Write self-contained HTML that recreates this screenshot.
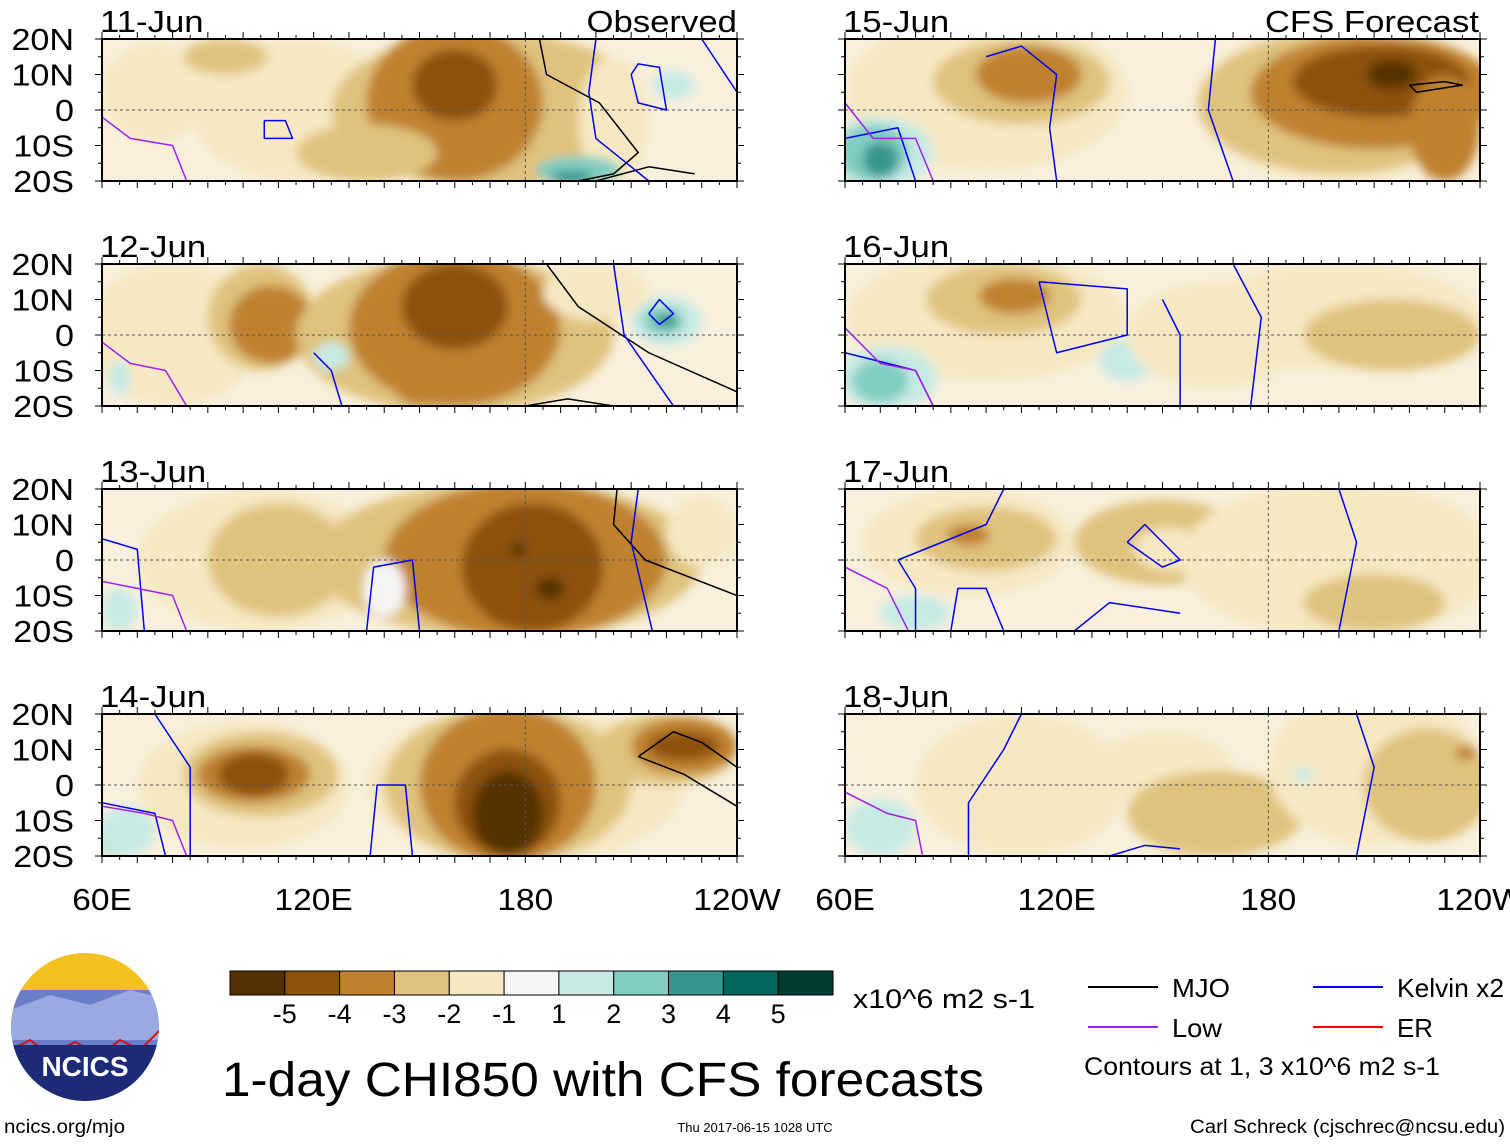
<!DOCTYPE html>
<html><head><meta charset="utf-8">
<style>
body{margin:0;background:#fff;width:1510px;height:1142px;overflow:hidden;font-family:"Liberation Sans",sans-serif}
svg text{font-family:"Liberation Sans",sans-serif}
</style></head>
<body>
<svg id="chart" width="1510" height="1142" viewBox="0 0 1510 1142" xmlns="http://www.w3.org/2000/svg">
<defs>
<filter id="blur" x="-20%" y="-20%" width="140%" height="140%"><feGaussianBlur stdDeviation="5"/></filter>
</defs>
<g id="panels"></g>
<g id="legend"></g>
</svg>
<script>
// ---- data ----
const levelColors = ["#543005","#8c510a","#bf812d","#dfc27d","#f6e8c3","#f5f5f5","#c7eae5","#80cdc1","#35978f","#01665e","#003c30"];
const levelLabels = ["-5","-4","-3","-2","-1","1","2","3","4","5"];
const panelTitles = ["11-Jun","12-Jun","13-Jun","14-Jun","15-Jun","16-Jun","17-Jun","18-Jun"];
const lonTicks = [60,120,180,240];
const lonTickLabels = ["60E","120E","180","120W"];
const latTicks = [20,10,0,-10,-20];
const latTickLabels = ["20N","10N","0","10S","20S"];
// blobs: [lon, lat, halfWidthDeg, halfHeightDeg, levelIndex]
const blobs11 = [[75,5,15,14,4],[115,0,30,20,4],[170,0,45,22,3],[95,15,12,5,3],[160,2,25,22,2],[160,7,12,10,1],[135,-12,20,8,3],[205,-3,10,18,4],[222,7,6,4,6],[195,-17,12,4,7],[193,-19,6,2,8]];
const blobs12 = [[80,0,25,20,4],[105,5,15,15,3],[108,3,12,11,2],[160,0,45,22,3],[160,2,30,22,2],[160,8,15,12,1],[150,-12,8,8,2],[125,-6,5,4,6],[220,4,10,7,6],[219,4,6,4,7],[220,4,3,2,8],[200,12,15,8,4],[65,-12,3,5,6]];
const blobs13 = [[105,0,35,20,4],[110,0,20,16,3],[175,0,55,22,3],[180,0,40,22,2],[182,-2,20,18,1],[178,3,2,2,0],[187,-8,4,3,0],[230,8,10,10,4],[65,-14,5,6,6],[140,-8,6,8,5]];
const blobs14 = [[100,0,30,18,4],[105,3,22,12,3],[103,3,16,8,2],[103,3,10,6,1],[180,0,45,22,4],[175,0,35,22,3],[175,0,25,22,2],[175,-5,15,15,1],[175,-8,10,12,0],[220,10,20,10,3],[225,11,15,8,2],[225,11,10,4,1],[65,-15,6,5,7],[67,-13,8,7,6]];
const blobs15 = [[100,5,40,22,4],[110,8,25,12,3],[112,10,15,8,2],[200,2,40,22,4],[200,2,40,20,3],[210,5,35,16,2],[212,8,25,10,1],[215,10,7,4,0],[230,-5,10,15,2],[70,-12,15,10,6],[68,-12,10,8,7],[70,-14,5,5,8]];
const blobs16 = [[100,5,40,18,4],[105,10,22,10,3],[108,11,10,5,2],[200,5,40,15,4],[215,0,25,10,3],[72,-12,14,9,6],[70,-13,8,6,7],[140,-7,8,6,6],[165,0,25,15,4]];
const blobs17 = [[95,5,30,15,4],[100,6,20,9,3],[95,7,6,3,2],[150,5,25,12,3],[152,3,10,6,4],[200,0,45,22,4],[210,-12,20,8,3],[80,-15,10,5,6]];
const blobs18 = [[110,0,30,20,4],[150,5,20,10,4],[165,-8,25,12,3],[210,5,30,22,4],[225,0,18,16,3],[236,9,3,2,2],[70,-12,10,8,6],[190,3,3,2,6]];
const panelBlobs = [blobs11,blobs12,blobs13,blobs14,blobs15,blobs16,blobs17,blobs18];
// contour lines: [type, [[lon,lat],...]]
const lines11 = [["mjo",[[184,20],[186,10],[201,2],[212,-12],[205,-18],[195,-20]]],["mjo",[[200,-20],[215,-16],[228,-18]]],["kelvin",[[200,20],[198,5],[200,-8],[215,-20]]],["kelvin",[[210,10],[212,13],[218,12],[220,0],[212,2],[210,10]]],["kelvin",[[106,-3],[112,-3],[114,-8],[106,-8],[106,-3]]],["kelvin",[[230,20],[240,5]]],["low",[[60,-2],[68,-8],[80,-10],[84,-20]]]];
const lines12 = [["mjo",[[186,20],[195,8],[215,-5],[240,-16]]],["mjo",[[180,-20],[192,-18],[205,-20]]],["kelvin",[[205,20],[208,0],[222,-20]]],["kelvin",[[215,6],[218,10],[222,6],[218,3],[215,6]]],["kelvin",[[120,-5],[125,-10],[128,-20]]],["low",[[60,-2],[68,-8],[78,-10],[84,-20]]]];
const lines13 = [["mjo",[[206,20],[205,10],[214,0],[240,-10]]],["kelvin",[[212,20],[210,5],[216,-20]]],["kelvin",[[135,-20],[137,-2],[148,0],[150,-20]]],["kelvin",[[60,6],[70,3],[72,-20]]],["low",[[60,-6],[70,-8],[80,-10],[84,-20]]]];
const lines14 = [["mjo",[[212,8],[222,15],[230,12],[240,5]]],["mjo",[[212,8],[225,3],[240,-6]]],["kelvin",[[75,20],[85,5],[85,-20]]],["kelvin",[[136,-20],[138,0],[146,0],[148,-20]]],["kelvin",[[60,-5],[75,-8],[78,-20]]],["low",[[60,-6],[72,-8],[80,-10],[84,-20]]]];
const lines15 = [["kelvin",[[100,15],[110,18],[120,10],[118,-5],[120,-20]]],["kelvin",[[165,20],[163,0],[170,-20]]],["kelvin",[[60,-8],[75,-5],[80,-20]]],["mjo",[[220,7],[230,8],[235,7],[222,5],[220,7]]],["low",[[60,2],[68,-8],[80,-8],[85,-20]]]];
const lines16 = [["kelvin",[[115,15],[140,13],[140,0],[120,-5],[115,15]]],["kelvin",[[150,10],[155,0],[155,-20]]],["kelvin",[[170,20],[178,5],[175,-20]]],["kelvin",[[60,-5],[80,-10],[85,-20]]],["low",[[60,2],[70,-8],[80,-10],[85,-20]]]];
const lines17 = [["kelvin",[[75,0],[100,10],[105,20]]],["kelvin",[[75,0],[80,-8],[80,-20]]],["kelvin",[[140,5],[145,10],[155,0],[150,-2],[140,5]]],["kelvin",[[200,20],[205,5],[200,-20]]],["kelvin",[[90,-20],[92,-8],[100,-8],[105,-20]]],["kelvin",[[125,-20],[135,-12],[155,-15]]],["low",[[60,-2],[72,-8],[78,-20]]]];
const lines18 = [["kelvin",[[95,-20],[95,-5],[105,10],[110,20]]],["kelvin",[[205,20],[210,5],[205,-20]]],["kelvin",[[135,-20],[145,-17],[155,-18]]],["low",[[60,-2],[72,-8],[80,-10],[82,-20]]]];
const panelLines = [lines11,lines12,lines13,lines14,lines15,lines16,lines17,lines18];

// ---- drawing ----
const NS="http://www.w3.org/2000/svg";
const panelsG=document.getElementById('panels');
const colX=[102,845], rowY=[39,264,489,714], PW=635, PH=142;
const lineColor={mjo:"#000",kelvin:"#0000ee",low:"#a020f0",er:"#ff0000"};
function mk(tag,attrs,parent){const e=document.createElementNS(NS,tag);for(const k in attrs)e.setAttribute(k,attrs[k]);parent.appendChild(e);return e;}
function widen(t,f){try{const w=t.getComputedTextLength();if(w>0){t.setAttribute('textLength',w*f);t.setAttribute('lengthAdjust','spacingAndGlyphs');}}catch(e){}}
panelTitles.forEach((t,i)=>{
  const col=i<4?0:1,row=i%4;const x0=colX[col],y0=rowY[row];
  const xs=lon=>x0+(lon-60)/180*PW, ys=lat=>y0+(20-lat)/40*PH;
  const g=mk('g',{},panelsG);
  
  
  const cid='clip'+i;
  const cp=mk('clipPath',{id:cid},g);mk('rect',{x:x0,y:y0,width:PW,height:PH},cp);
  const bg=mk('rect',{x:x0,y:y0,width:PW,height:PH,fill:"#f8f0dc"},g);
  
  
  const fg=mk('g',{'clip-path':`url(#${cid})`},g);
  const bl=mk('g',{filter:'url(#blur)'},fg);
  panelBlobs[i].forEach(b=>{
    const e=mk('ellipse',{cx:xs(b[0]),cy:ys(b[1]),rx:b[2]/180*PW,ry:b[3]/40*PH,fill:levelColors[b[4]]},bl);
    
    
  });
  mk('line',{x1:x0,x2:x0+PW,y1:ys(0),y2:ys(0),stroke:"#555","stroke-dasharray":"3,3","stroke-width":1},fg);
  mk('line',{x1:xs(180),x2:xs(180),y1:y0,y2:y0+PH,stroke:"#555","stroke-dasharray":"3,3","stroke-width":1},fg);
  panelLines[i].forEach(l=>{
    const p=mk('polyline',{points:l[1].map(q=>xs(q[0])+','+ys(q[1])).join(' '),fill:'none',stroke:lineColor[l[0]],'stroke-width':1.5,'stroke-linejoin':'round'},fg);
    
    
  });
  mk('rect',{x:x0,y:y0,width:PW,height:PH,fill:'none',stroke:'#000','stroke-width':2},g);
  for(let lon=60;lon<=240;lon+=5){const x=xs(lon),len=lon%10?4:7;
    mk('line',{x1:x,x2:x,y1:y0,y2:y0-len,stroke:'#000','stroke-width':1},g);
    mk('line',{x1:x,x2:x,y1:y0+PH,y2:y0+PH+len,stroke:'#000','stroke-width':1},g);}
  for(let lat=-20;lat<=20;lat+=5){const y=ys(lat),len=lat%10?4:7;
    mk('line',{x1:x0,x2:x0-len,y1:y,y2:y,stroke:'#000','stroke-width':1},g);
    mk('line',{x1:x0+PW,x2:x0+PW+len,y1:y,y2:y,stroke:'#000','stroke-width':1},g);}
  const tt=mk('text',{x:x0-2,y:y0-7,'font-size':31},g);tt.textContent=t;
  
  
  widen(tt,1.12);
  if(col===0){latTicks.forEach((lat,k)=>{const tl=mk('text',{x:74,y:ys(lat)+11,'font-size':31,'text-anchor':'end'},g);tl.textContent=latTickLabels[k];
    
    widen(tl,1.1);});}
  if(row===3){lonTicks.forEach((lon,k)=>{const tl=mk('text',{x:xs(lon),y:910,'font-size':31,'text-anchor':'middle'},g);tl.textContent=lonTickLabels[k];
    
    widen(tl,1.08);});}
});
const hdr=[[737,'Observed'],[1479,'CFS Forecast']];
hdr.forEach(h=>{const t=mk('text',{x:h[0],y:32,'font-size':31,'text-anchor':'end'},panelsG);t.textContent=h[1];
  
  widen(t,1.12);});

// legend
const lg=document.getElementById('legend');
const cbx=230,cbw=603/11;
levelColors.forEach((c,k)=>{const r=mk('rect',{x:cbx+k*cbw,y:971,width:cbw,height:24,fill:c,stroke:'#000','stroke-width':1},lg);
  
  });
levelLabels.forEach((l,k)=>{const t=mk('text',{x:cbx+(k+1)*cbw,y:1023,'font-size':27,'text-anchor':'middle'},lg);t.textContent=l;
  
  });
function txt(x,y,s,size,name,anchor,len){const t=mk('text',{x:x,y:y,'font-size':size,'text-anchor':anchor||'start'},lg);t.textContent=s;
  if(len){t.setAttribute('textLength',len);t.setAttribute('lengthAdjust','spacingAndGlyphs');}
  
  return t;}
txt(853,1008,'x10^6 m2 s-1',27,'colorbar-units',null,182);
txt(222,1096,'1-day CHI850 with CFS forecasts',48,'chart-title',null,762);
const ent=[[1088,987,'MJO','#000',58],[1313,987,'Kelvin x2','#0000ee',107],[1088,1027,'Low','#a020f0',50],[1313,1027,'ER','#ff0000',36]];
ent.forEach(e=>{const l=mk('line',{x1:e[0],x2:e[0]+70,y1:e[1],y2:e[1],stroke:e[3],'stroke-width':2},lg);
  
  
  txt(e[0]+84,e[1]+10,e[2],26,'legend-entry',null,e[4]);});
txt(1084,1075,'Contours at 1, 3 x10^6 m2 s-1',25,'contour-note',null,356);
txt(4,1133,'ncics.org/mjo',19,'source-url',null,121);
txt(755,1132,'Thu 2017-06-15 1028 UTC',13,'timestamp','middle');
txt(1190,1133,'Carl Schreck (cjschrec@ncsu.edu)',19,'author-credit',null,315);
// logo
const logo=mk('g',{},lg);


const lc=mk('clipPath',{id:'logoclip'},logo);mk('circle',{cx:85,cy:1027,r:74},lc);
const li=mk('g',{'clip-path':'url(#logoclip)'},logo);
mk('rect',{x:0,y:950,width:170,height:160,fill:'#f3c020'},li);
mk('rect',{x:0,y:990,width:170,height:130,fill:'#6a7fc8'},li);
mk('polygon',{points:'10,1010 50,995 90,1005 130,990 170,1000 170,1040 10,1040',fill:'#9aa9e0'},li);
mk('polyline',{points:'10,1050 30,1040 50,1055 75,1042 100,1055 120,1040 140,1050 160,1030',fill:'none',stroke:'#d01010','stroke-width':2},li);
mk('rect',{x:0,y:1045,width:170,height:70,fill:'#1c2a78'},li);
const lt=txt(85,1076,'NCICS',28,'logo-text','middle');lt.setAttribute('fill','#fff');lt.setAttribute('font-weight','bold');
</script>
</body></html>
